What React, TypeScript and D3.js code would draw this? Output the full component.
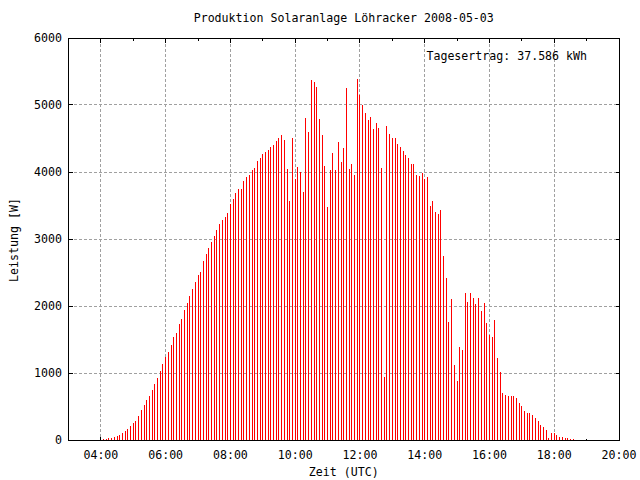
import React from "react";
import * as d3 from "d3";

// Power readings (W), 5-minute intervals starting 04:05 UTC
const startMinutes = 4 * 60 + 5;
const intervalMinutes = 5;
const powerValues: number[] = [
  // 04:05 - 06:40
  15, 15, 30, 30, 45, 60, 75, 105, 135, 165, 210, 255, 285, 360, 450, 520, 600, 655, 745, 835, 925, 1030, 1135, 1240, 1315, 1420, 1535, 1600, 1730, 1805, 1940, 2045,
  // 06:45 - 09:25
  2154, 2259, 2363, 2468, 2512, 2676, 2781, 2871, 2960, 3050, 3139, 3229, 3289, 3334, 3393, 3527, 3602, 3692, 3751, 3751, 3871, 3930, 3960, 4035, 4065, 4169, 4214, 4274, 4303, 4333, 4378, 4408, 4468,
  // 09:30 - 12:10
  4507, 4552, 4478, 4045, 3567, 4507, 3896, 4075, 4000, 3701, 4806, 4597, 5373, 5343, 5269, 4791, 4552, 4090, 3478, 4030, 4284, 4030, 4448, 4149, 4358, 5254, 4045, 4119, 3955, 5388, 5149, 5000, 4881,
  // 12:15 - 14:50
  4776, 4821, 4642, 4731, 4657, 4060, 940, 4687, 4567, 4507, 4507, 4418, 4373, 4313, 4254, 4209, 4119, 4119, 3955, 3940, 3985, 3896, 3925, 3493, 3567, 3403, 3373, 3433, 2746, 2418, 1761, 2104,
  // 14:55 - 17:35
  1124, 886, 1393, 1348, 2199, 2065, 2199, 2124, 2035, 2124, 1930, 2050, 1751, 1572, 1542, 1796, 1229, 1020, 707, 677, 662, 662, 662, 632, 557, 512, 438, 408, 408, 378, 333, 289, 229,
  // 17:40 - 18:35
  194, 149, 30, 104, 100, 75, 45, 45, 30, 30, 15, 15,
];

const xMajorTicks = [4, 6, 8, 10, 12, 14, 16, 18, 20];
const xMinorTicks = [3, 5, 7, 9, 11, 13, 15, 17, 19];
const yTicks = [0, 1000, 2000, 3000, 4000, 5000, 6000];

const titleText = "Produktion Solaranlage Löhracker 2008-05-03";
const xLabelText = "Zeit (UTC)";
const yLabelText = "Leistung [W]";
const totalText = "Tagesertrag: 37.586 kWh";

const fmtHour = (h: number) => (h < 10 ? "0" : "") + h + ":00";

export default function App() {
  const W = 640, H = 480;
  const left = 68.5, right = 619, top = 38, bottom = 440;
  const x = d3.scaleLinear().domain([3, 20]).range([left, right]);
  const y = d3.scaleLinear().domain([0, 6000]).range([bottom, top]);
  const font = "'DejaVu Sans Mono', 'Liberation Mono', monospace";
  const fs = 11.6;
  const px = (v: number) => Math.floor(v) + 0.5;

  const data = powerValues.map((v, i) => ({
    t: (startMinutes + i * intervalMinutes) / 60,
    v,
  }));

  const L = px(left), R = px(right), T = px(top), B = px(bottom);

  return (
    <svg
      width={W}
      height={H}
      style={{ position: "absolute", left: 0, top: 0, background: "#fff" }}
      shapeRendering="crispEdges"
    >
      <rect x={0} y={0} width={W} height={H} fill="#fff" />
      {/* grid */}
      {xMajorTicks.filter((h) => h < 20).map((h) => (
        <line key={"gx" + h} x1={px(x(h))} x2={px(x(h))} y1={T} y2={B}
          stroke="#a0a0a0" strokeDasharray="3,2" />
      ))}
      {yTicks.filter((v) => v > 0 && v < 6000).map((v) => (
        <line key={"gy" + v} x1={L} x2={R} y1={px(y(v))} y2={px(y(v))}
          stroke="#a0a0a0" strokeDasharray="3,2" />
      ))}
      {/* ticks */}
      {xMajorTicks.map((h) => (
        <g key={"tx" + h}>
          <line x1={px(x(h))} x2={px(x(h))} y1={B} y2={B - 4} stroke="#000" />
          <line x1={px(x(h))} x2={px(x(h))} y1={T} y2={T + 4} stroke="#000" />
        </g>
      ))}
      {xMinorTicks.map((h) => (
        <g key={"mx" + h}>
          <line x1={px(x(h))} x2={px(x(h))} y1={B} y2={B - 2} stroke="#000" />
          <line x1={px(x(h))} x2={px(x(h))} y1={T} y2={T + 2} stroke="#000" />
        </g>
      ))}
      {yTicks.map((v) => (
        <g key={"ty" + v}>
          <line x1={L} x2={L + 4} y1={px(y(v))} y2={px(y(v))} stroke="#000" />
          <line x1={R} x2={R - 4} y1={px(y(v))} y2={px(y(v))} stroke="#000" />
        </g>
      ))}
      {/* impulses */}
      {data.map((d, i) => (
        <rect key={"b" + i} x={Math.floor(x(d.t))} width={1}
          y={Math.round(y(d.v))} height={Math.max(0, bottom - Math.round(y(d.v)))}
          fill="#ff0000" />
      ))}
      {/* border */}
      <rect x={L} y={T} width={R - L} height={B - T} fill="none" stroke="#000" />
      {/* labels */}
      <g fontFamily={font} fontSize={fs} fill="#000">
        <text x={(left + right) / 2} y={18} textAnchor="middle" dominantBaseline="central">{titleText}</text>
        {yTicks.map((v) => (
          <text key={"ly" + v} x={62} y={y(v)} textAnchor="end" dominantBaseline="central">{v}</text>
        ))}
        {xMajorTicks.map((h) => (
          <text key={"lx" + h} x={x(h)} y={455} textAnchor="middle" dominantBaseline="central">{fmtHour(h)}</text>
        ))}
        <text x={(left + right) / 2} y={472} textAnchor="middle" dominantBaseline="central">{xLabelText}</text>
        <text transform="translate(14,240) rotate(-90)" textAnchor="middle" dominantBaseline="central">{yLabelText}</text>
        <text x={587} y={56} textAnchor="end" dominantBaseline="central">{totalText}</text>
      </g>
    </svg>
  );
}
